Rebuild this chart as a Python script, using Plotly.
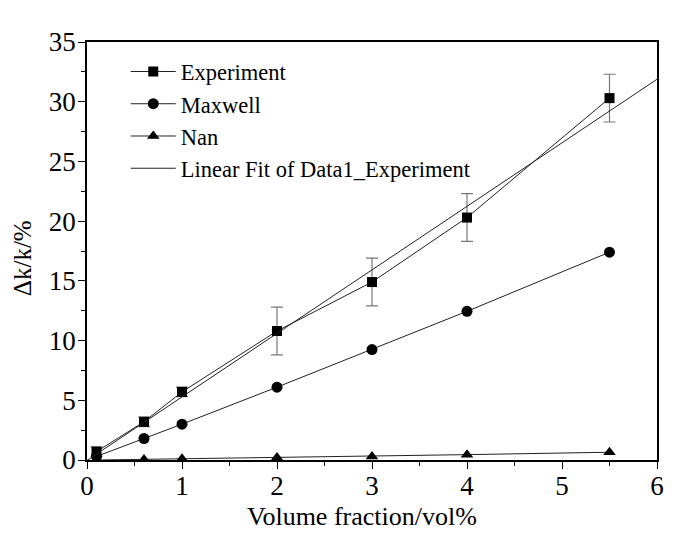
import numpy as np
import plotly.graph_objects as go

x = [0.1, 0.6, 1, 2, 3, 4, 5.5]
experiment = [0.7, 3.2, 5.7, 10.8, 14.9, 20.3, 30.3]
exp_err = [0.4, 0.4, 0.4, 2.0, 2.0, 2.0, 2.0]
maxwell = [0.3, 1.8, 3.0, 6.1, 9.25, 12.45, 17.4]
nan = [0.0, 0.05, 0.1, 0.2, 0.3, 0.45, 0.65]

slope, intercept = np.polyfit(x, experiment, 1)
fit_x = [0, 6]
fit_y = [intercept + slope * v for v in fit_x]

font = "Liberation Serif"
fig = go.Figure()
fig.add_trace(go.Scatter(
    x=x, y=experiment, mode="lines+markers", name="Experiment",
    line=dict(color="#222", width=1),
    marker=dict(symbol="square", size=10, color="black"),
    error_y=dict(type="data", array=exp_err, color="#777", thickness=1.2, width=6),
))
fig.add_trace(go.Scatter(
    x=x, y=maxwell, mode="lines+markers", name="Maxwell",
    line=dict(color="#222", width=1),
    marker=dict(symbol="circle", size=11, color="black"),
))
fig.add_trace(go.Scatter(
    x=x, y=nan, mode="lines+markers", name="Nan",
    line=dict(color="#222", width=1),
    marker=dict(symbol="triangle-up", size=11, color="black"),
))
fig.add_trace(go.Scatter(
    x=fit_x, y=fit_y, mode="lines", name="Linear Fit of Data1_Experiment",
    line=dict(color="#222", width=1),
))

axis_common = dict(
    showgrid=False, zeroline=False, showline=True, linecolor="black", linewidth=1.5,
    mirror=True, ticks="outside", tickcolor="black", ticklen=7, tickwidth=1.2,
    tickfont=dict(family=font, size=27, color="black"),
)
fig.update_xaxes(
    range=[0, 6], dtick=1, tick0=0, ticklabelstandoff=-6,
    minor=dict(ticks="outside", dtick=0.5, ticklen=4, tickcolor="black"),
    **axis_common,
)
fig.update_yaxes(
    range=[0, 35], dtick=5, tick0=0, ticklabelstandoff=-3,
    minor=dict(ticks="outside", dtick=2.5, ticklen=4, tickcolor="black"),
    **axis_common,
)
fig.add_annotation(
    text="Volume fraction/vol%", xref="paper", yref="paper",
    x=0.4825, y=-0.136, xanchor="center", yanchor="middle", showarrow=False,
    font=dict(family=font, size=26, color="black"),
)
fig.add_annotation(
    text="Δk/k/%", xref="paper", yref="paper", textangle=-90,
    x=-0.114, y=0.483, xanchor="center", yanchor="middle", showarrow=False,
    font=dict(family=font, size=25, color="black"),
)
fig.update_layout(
    width=677, height=538,
    margin=dict(l=79, r=28, t=34, b=86),
    font=dict(family=font),
    plot_bgcolor="white", paper_bgcolor="white",
    legend=dict(x=0.068, y=0.98, xanchor="left", yanchor="top", itemwidth=45,
                font=dict(family=font, size=22.5, color="black"),
                bgcolor="rgba(0,0,0,0)", tracegroupgap=0),
    showlegend=True,
)
fig.write_html("out.html")
